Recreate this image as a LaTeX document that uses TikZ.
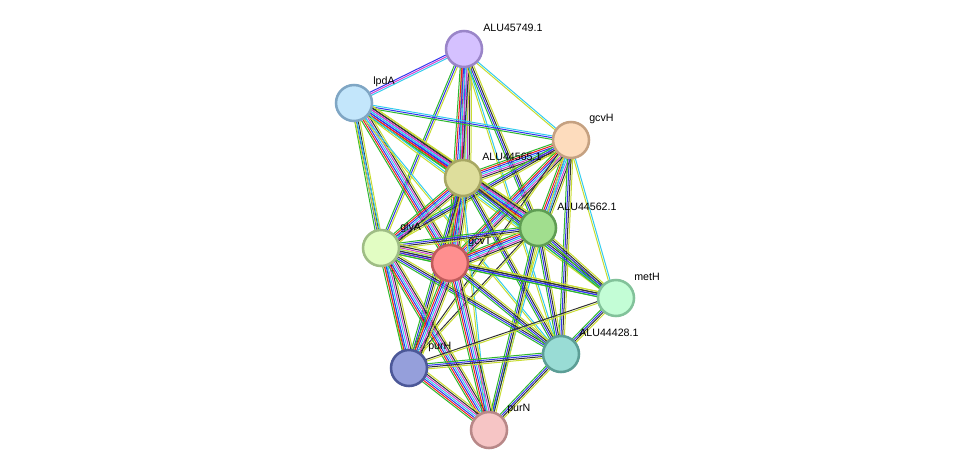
\documentclass[tikz,border=0pt]{standalone}
\usepackage{fontspec}
\setmainfont{Liberation Sans}
\usetikzlibrary{calc}
\definecolor{sg}{HTML}{2DB82D}
\definecolor{sr}{HTML}{F01E1E}
\definecolor{sb}{HTML}{3333EE}
\definecolor{sc}{HTML}{33CCEE}
\definecolor{sm}{HTML}{D040D0}
\definecolor{sk}{HTML}{333333}
\definecolor{sy}{HTML}{C8DC30}
\newcommand\stredge[3]{%
  \foreach \c [count=\i] in #3 {%
    \draw[draw=\c, line width=0.75pt]
      ($(#1)!{(\i-2.5)*1.3pt}!90:(#2)$) -- ($(#2)!{(\i-2.5)*1.3pt}!-90:(#1)$);}}
\def\A{sg,sr,sb,sc,sm,sk,sy}
\def\Bs{sg,sb,sk,sy}
\def\C{sy,sc}
\def\D{sk,sy}
\def\E{sb,sm,sc}
\def\F{sg,sb,sy}
\def\G{sg,sb,sc}
\tikzset{prot/.style={circle,minimum size=27pt,inner sep=0pt,line width=1.9pt},
 lab/.style={anchor=west,font=\fontsize{8pt}{9pt}\selectfont,inner sep=0pt}}
\begin{document}
\begin{tikzpicture}[x=0.75pt,y=-0.75pt]
\useasboundingbox (0,0) rectangle (975,475);
\coordinate (n1) at (464,49);
\coordinate (n2) at (354,103);
\coordinate (n3) at (571,140);
\coordinate (n4) at (463,178);
\coordinate (n5) at (538,228);
\coordinate (n6) at (381,248);
\coordinate (n7) at (450,263);
\coordinate (n8) at (616,298);
\coordinate (n9) at (561,354);
\coordinate (n10) at (409,368);
\coordinate (n11) at (489,430);
\stredge{n1}{n2}{\E}
\stredge{n1}{n3}{\C}
\stredge{n1}{n4}{\A}
\stredge{n1}{n5}{\Bs}
\stredge{n1}{n6}{\F}
\stredge{n1}{n7}{\A}
\stredge{n1}{n9}{\C}
\stredge{n2}{n3}{\G}
\stredge{n2}{n4}{\A}
\stredge{n2}{n5}{\A}
\stredge{n2}{n6}{\Bs}
\stredge{n2}{n7}{\A}
\stredge{n2}{n10}{\C}
\stredge{n2}{n9}{\C}
\stredge{n2}{n8}{\C}
\stredge{n3}{n4}{\A}
\stredge{n3}{n5}{\A}
\stredge{n3}{n7}{\A}
\stredge{n3}{n6}{\Bs}
\stredge{n3}{n8}{\C}
\stredge{n3}{n9}{\Bs}
\stredge{n3}{n10}{\D}
\stredge{n3}{n11}{\C}
\stredge{n4}{n5}{\A}
\stredge{n4}{n6}{\A}
\stredge{n4}{n7}{\A}
\stredge{n4}{n8}{\Bs}
\stredge{n4}{n9}{\Bs}
\stredge{n4}{n10}{\Bs}
\stredge{n4}{n11}{\C}
\stredge{n5}{n7}{\A}
\stredge{n5}{n6}{\Bs}
\stredge{n5}{n8}{\Bs}
\stredge{n5}{n9}{\Bs}
\stredge{n5}{n10}{\D}
\stredge{n5}{n11}{\Bs}
\stredge{n6}{n7}{\A}
\stredge{n6}{n10}{\A}
\stredge{n6}{n11}{\A}
\stredge{n6}{n9}{\Bs}
\stredge{n6}{n8}{\Bs}
\stredge{n7}{n10}{\A}
\stredge{n7}{n11}{\A}
\stredge{n7}{n9}{\Bs}
\stredge{n7}{n8}{\Bs}
\stredge{n8}{n9}{\Bs}
\stredge{n8}{n10}{\D}
\stredge{n9}{n10}{\Bs}
\stredge{n9}{n11}{\Bs}
\stredge{n10}{n11}{\A}
\node[prot,fill={rgb,255:red,213;green,193;blue,255},draw={rgb,255:red,154;green,133;blue,200}] (a1) at (n1) {};
\node[prot,fill={rgb,255:red,195;green,230;blue,251},draw={rgb,255:red,127;green,166;blue,196}] (a2) at (n2) {};
\node[prot,fill={rgb,255:red,253;green,220;blue,189},draw={rgb,255:red,197;green,161;blue,129}] (a3) at (n3) {};
\node[prot,fill={rgb,255:red,222;green,222;blue,156},draw={rgb,255:red,167;green,167;blue,99}] (a4) at (n4) {};
\node[prot,fill={rgb,255:red,161;green,222;blue,142},draw={rgb,255:red,95;green,157;blue,83}] (a5) at (n5) {};
\node[prot,fill={rgb,255:red,226;green,253;blue,195},draw={rgb,255:red,159;green,189;blue,133}] (a6) at (n6) {};
\node[prot,fill={rgb,255:red,255;green,143;blue,143},draw={rgb,255:red,192;green,91;blue,91}] (a7) at (n7) {};
\node[prot,fill={rgb,255:red,195;green,253;blue,214},draw={rgb,255:red,130;green,194;blue,154}] (a8) at (n8) {};
\node[prot,fill={rgb,255:red,153;green,220;blue,213},draw={rgb,255:red,92;green,158;blue,150}] (a9) at (n9) {};
\node[prot,fill={rgb,255:red,149;green,159;blue,219},draw={rgb,255:red,76;green,88;blue,152}] (a10) at (n10) {};
\node[prot,fill={rgb,255:red,246;green,197;blue,197},draw={rgb,255:red,184;green,136;blue,136}] (a11) at (n11) {};
\node[lab] (l1) at (483,28) {ALU45749.1};
\node[lab] (l2) at (373,82) {lpdA};
\node[lab] (l3) at (589,119) {gcvH};
\node[lab] (l4) at (482,157) {ALU44565.1};
\node[lab] (l5) at (557,207) {ALU44562.1};
\node[lab] (l6) at (400,228) {glyA};
\node[lab] (l7) at (468,242) {gcvT};
\node[lab] (l8) at (634,277) {metH};
\node[lab] (l9) at (579,333) {ALU44428.1};
\node[lab] (l10) at (428,347) {purH};
\node[lab] (l11) at (507,409) {purN};
\end{tikzpicture}
\end{document}
